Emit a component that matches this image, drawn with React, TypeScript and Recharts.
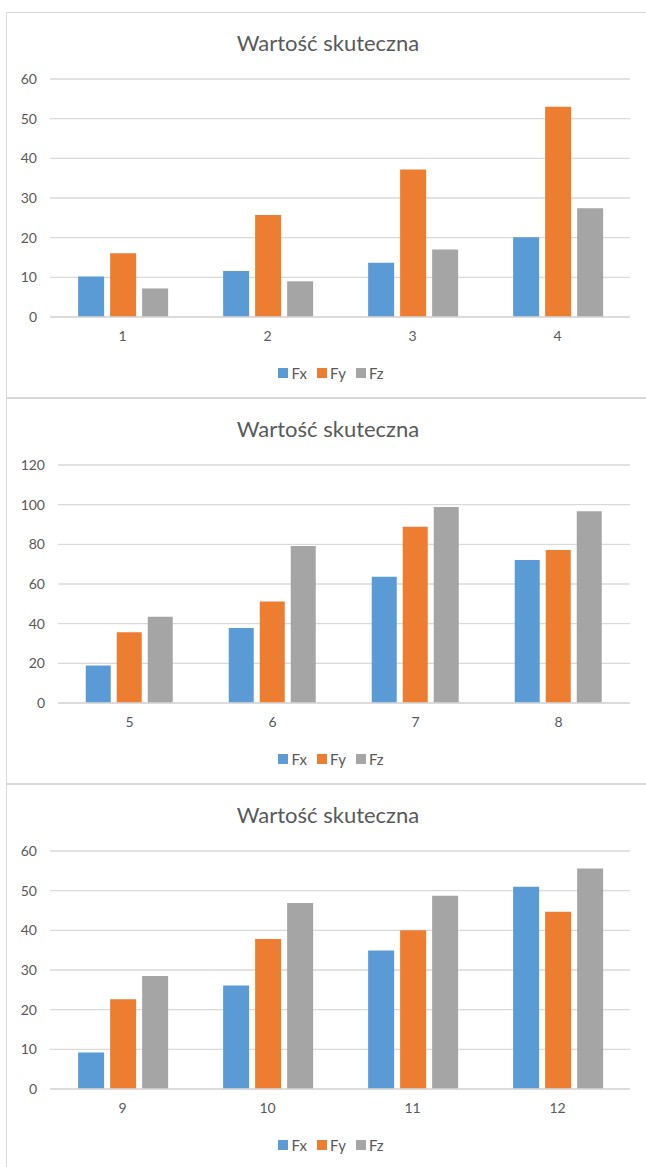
import { BarChart, Bar, XAxis, YAxis, CartesianGrid, Legend } from "recharts";

const FONT = "Lato, 'Liberation Sans', sans-serif";
const TEXT = "#595959";
const GRID = "#d9d9d9";

const seriesNames = ["Fx", "Fy", "Fz"];
const seriesColors = ["#5b9bd5", "#ed7d31", "#a5a5a5"];

// first panel
const groupsA = ["1", "2", "3", "4"];
const fxA = [10.2, 11.6, 13.7, 20.1];
const fyA = [16.1, 25.7, 37.2, 53.0];
const fzA = [7.2, 9.0, 17.0, 27.4];
const ticksA = [0, 10, 20, 30, 40, 50, 60];

// second panel
const groupsB = ["5", "6", "7", "8"];
const fxB = [18.9, 37.8, 63.7, 72.1];
const fyB = [35.7, 51.2, 88.9, 77.1];
const fzB = [43.5, 79.2, 98.8, 96.7];
const ticksB = [0, 20, 40, 60, 80, 100, 120];

// third panel
const groupsC = ["9", "10", "11", "12"];
const fxC = [9.2, 26.1, 34.9, 51.0];
const fyC = [22.6, 37.8, 40.0, 44.7];
const fzC = [28.5, 46.9, 48.7, 55.6];
const ticksC = [0, 10, 20, 30, 40, 50, 60];

const title = "Wartość skuteczna";

function buildRows(groups: string[], fx: number[], fy: number[], fz: number[]) {
  return groups.map((g, i) => ({ name: g, Fx: fx[i], Fy: fy[i], Fz: fz[i] }));
}

const panels = [
  { top: 12, data: buildRows(groupsA, fxA, fyA, fzA), ticks: ticksA, axisWidth: 50 },
  { top: 398, data: buildRows(groupsB, fxB, fyB, fzB), ticks: ticksB, axisWidth: 58 },
  { top: 784, data: buildRows(groupsC, fxC, fyC, fzC), ticks: ticksC, axisWidth: 50 },
];

const CHART_W = 646;
const CHART_H = 387;

function LegendContent() {
  return (
    <div
      style={{
        display: "flex",
        justifyContent: "center",
        alignItems: "center",
        height: 20,
        fontFamily: FONT,
        fontSize: 15,
        color: TEXT,
      }}
    >
      {seriesNames.map((name, i) => (
        <div key={name} style={{ display: "flex", alignItems: "center", marginRight: i < 2 ? 10 : 0 }}>
          <span style={{ width: 10, height: 10, background: seriesColors[i], marginRight: 3 }} />
          <span>{name}</span>
        </div>
      ))}
    </div>
  );
}

function Panel({ top, data, ticks, axisWidth }: (typeof panels)[number]) {
  const max = ticks[ticks.length - 1];
  return (
    <>
      <div
        style={{
          position: "absolute",
          left: 6,
          top,
          width: 700,
          height: 386,
          boxSizing: "border-box",
          border: `1px solid ${GRID}`,
          background: "#fff",
        }}
      />
      <div style={{ position: "absolute", left: 0, top, width: CHART_W, height: CHART_H }}>
        <div
          style={{
            position: "absolute",
            left: 0,
            width: 656,
            top: 17,
            textAlign: "center",
            fontFamily: FONT,
            fontSize: 22,
            color: TEXT,
            zIndex: 1,
          }}
        >
          {title}
        </div>
        <BarChart
          width={CHART_W}
          height={CHART_H}
          data={data}
          margin={{ top: 67, right: 16, bottom: 16, left: 0 }}
          barCategoryGap="19.4%"
          barGap={6}
        >
          <CartesianGrid vertical={false} stroke={GRID} strokeWidth={1.3} />
          <XAxis
            dataKey="name"
            height={46}
            axisLine={{ stroke: GRID, strokeWidth: 1.3 }}
            tickLine={false}
            tickSize={0}
            tickMargin={14}
            tick={{ fill: TEXT, fontSize: 14, fontFamily: FONT }}
          />
          <YAxis
            width={axisWidth}
            domain={[0, max]}
            ticks={ticks}
            axisLine={false}
            tickLine={false}
            tickSize={0}
            tickMargin={13}
            tick={{ fill: TEXT, fontSize: 14, fontFamily: FONT }}
          />
          <Legend
            verticalAlign="bottom"
            content={<LegendContent />}
            wrapperStyle={{ left: 16, width: 630, height: 20 }}
          />
          {seriesNames.map((name, i) => (
            <Bar key={name} dataKey={name} fill={seriesColors[i]} isAnimationActive={false} />
          ))}
        </BarChart>
      </div>
    </>
  );
}

export default function App() {
  return (
    <div
      style={{
        position: "absolute",
        left: 0,
        top: 0,
        width: 646,
        height: 1167,
        overflow: "hidden",
        background: "#fff",
      }}
    >
      {panels.map((p) => (
        <Panel key={p.top} {...p} />
      ))}
    </div>
  );
}
